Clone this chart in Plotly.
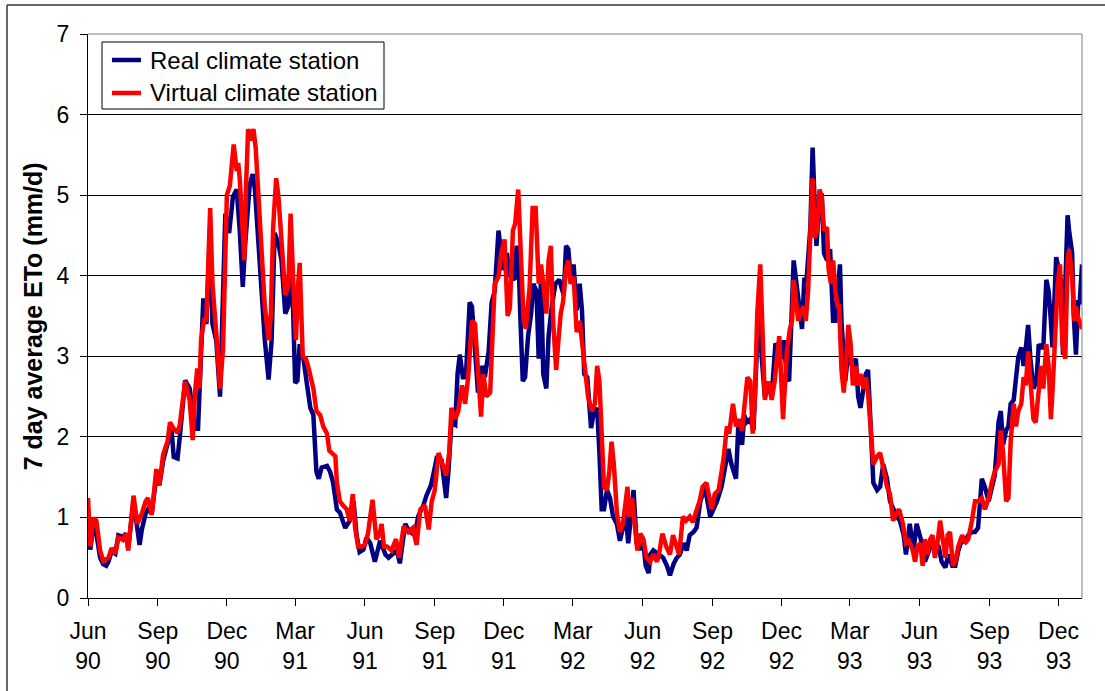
import pandas as pd
import plotly.graph_objects as go

# Series start date; the x values below are day offsets from it
START = pd.Timestamp("1990-06-01")

# Real climate station: 7 day average ETo (mm/d)
real_day = [
    0, 3, 7, 11, 16, 20, 24, 27, 31, 36, 40, 46, 50, 53, 60, 65, 68, 71, 76, 79,
    84, 90, 94, 99, 105, 110, 113, 118, 121, 128, 134, 138, 141, 145, 149, 152, 156, 161, 164, 169,
    174, 178, 181, 186, 191, 196, 200, 204, 207, 213, 217, 220, 224, 229, 233, 238, 242, 246, 251, 255,
    260, 264, 268, 273, 276, 279, 284, 288, 293, 297, 301, 304, 308, 315, 319, 323, 328, 332, 339, 345,
    350, 354, 358, 363, 367, 372, 378, 385, 392, 396, 407, 411, 418, 424, 431, 435, 442, 446, 452, 456,
    460, 466, 472, 475, 479, 484, 487, 490, 494, 498, 503, 506, 510, 514, 519, 523, 528, 532, 536, 541,
    547, 552, 556, 562, 565, 567, 570, 573, 576, 580, 584, 587, 591, 594, 597, 600, 604, 607, 611, 616,
    621, 627, 630, 633, 636, 640, 644, 648, 651, 654, 658, 663, 666, 671, 674, 677, 680, 684, 688, 692,
    697, 701, 705, 708, 712, 717, 719, 723, 727, 732, 735, 739, 741, 745, 752, 758, 763, 767, 772, 776,
    780, 785, 789, 793, 798, 802, 807, 813, 820, 825, 829, 835, 840, 844, 848, 854, 857, 862, 865, 868,
    873, 877, 880, 884, 888, 892, 897, 901, 906, 910, 914, 917, 921, 924, 930, 934, 938, 941, 944, 947,
    952, 955, 957, 960, 964, 967, 970, 974, 978, 982, 985, 988, 991, 993, 998, 1002, 1007, 1012, 1015, 1018,
    1022, 1025, 1028, 1032, 1035, 1040, 1044, 1048, 1053, 1057, 1061, 1066, 1070, 1075, 1078, 1083, 1088, 1092, 1097, 1100,
    1103, 1108, 1112, 1116, 1121, 1125, 1130, 1134, 1139, 1143, 1147, 1152, 1156, 1160, 1165, 1169, 1173, 1178, 1182, 1187,
    1191, 1195, 1200, 1203, 1206, 1210, 1213, 1216, 1220, 1223, 1226, 1230, 1233, 1236, 1239, 1242, 1246, 1250, 1253, 1256,
    1259, 1263, 1266, 1269, 1271, 1276, 1278, 1282, 1285, 1288, 1291, 1293, 1297, 1299, 1302, 1305, 1307, 1310,
]
real_eto = [
    1.1, 0.6, 0.9, 0.8, 0.5, 0.42, 0.4, 0.45, 0.58, 0.55, 0.78, 0.76, 0.8, 0.62, 1.2, 0.87, 0.66, 0.85, 1.05, 1.1,
    1.05, 1.5, 1.4, 1.7, 1.95, 2.1, 1.75, 1.73, 2.0, 2.7, 2.6, 2.3, 2.1, 2.1, 3.1, 3.72, 3.4, 4.6, 3.4, 3.2,
    2.5, 3.9, 4.77, 4.53, 4.98, 5.07, 4.56, 3.86, 4.37, 5.12, 5.26, 5.07, 4.47, 3.81, 3.2, 2.71, 3.2, 4.53, 4.4, 4.19,
    3.53, 3.62, 4.37, 2.67, 2.7, 3.15, 2.97, 2.69, 2.36, 2.27, 1.57, 1.48, 1.62, 1.64, 1.57, 1.43, 1.1, 1.06, 0.87, 0.96,
    1.2, 0.78, 0.57, 0.6, 0.75, 0.68, 0.45, 0.71, 0.54, 0.5, 0.59, 0.43, 0.92, 0.82, 0.78, 1.01, 1.15, 1.27, 1.4, 1.57,
    1.76, 1.71, 1.24, 1.57, 2.18, 2.15, 2.78, 3.02, 2.74, 2.74, 3.67, 3.62, 3.06, 2.55, 2.88, 2.74, 3.06, 3.67, 3.81, 4.56,
    4.07, 4.28, 4.0, 3.95, 4.37, 4.3, 3.44, 2.69, 2.74, 3.25, 3.53, 3.9, 3.81, 2.97, 3.99, 2.78, 2.6, 3.25, 3.6, 3.9,
    3.95, 3.76, 4.37, 4.33, 3.99, 4.14, 3.57, 3.9, 3.57, 2.78, 2.74, 2.11, 2.27, 2.36, 1.8, 1.1, 1.1, 1.34, 1.24, 1.01,
    0.92, 0.71, 0.87, 1.1, 0.68, 1.15, 1.34, 0.68, 0.6, 0.68, 0.4, 0.31, 0.54, 0.59, 0.54, 0.5, 0.4, 0.28, 0.43, 0.5,
    0.54, 0.68, 0.59, 0.78, 0.82, 0.87, 1.2, 1.38, 1.01, 1.1, 1.2, 1.38, 1.62, 1.85, 1.66, 1.48, 2.13, 1.9, 2.27, 2.18,
    2.22, 2.08, 2.74, 3.65, 2.97, 2.5, 2.65, 2.5, 3.16, 3.1, 2.97, 3.2, 2.74, 2.69, 4.19, 3.9, 3.62, 3.34, 3.95, 3.95,
    4.6, 5.59, 5.07, 4.37, 4.93, 5.02, 4.28, 4.19, 4.33, 3.44, 3.44, 3.81, 4.14, 3.44, 2.69, 3.06, 2.88, 2.97, 2.5, 2.36,
    2.6, 2.78, 2.83, 2.04, 1.43, 1.34, 1.38, 1.66, 1.48, 1.2, 1.1, 1.01, 0.96, 0.78, 0.54, 0.92, 0.59, 0.92, 0.75, 0.64,
    0.45, 0.59, 0.68, 0.68, 0.64, 0.45, 0.38, 0.54, 0.4, 0.4, 0.59, 0.73, 0.7, 0.78, 0.82, 0.82, 0.87, 1.48, 1.38, 1.2,
    1.34, 1.52, 2.18, 2.32, 1.9, 2.08, 2.13, 2.41, 2.46, 2.69, 2.99, 3.11, 2.88, 3.11, 3.39, 2.97, 2.6, 2.69, 3.15, 3.11,
    3.11, 3.95, 3.81, 3.44, 3.11, 4.23, 4.14, 3.95, 3.02, 3.9, 4.75, 4.56, 4.28, 3.53, 3.02, 3.67, 3.67, 4.14,
]

# Virtual climate station: 7 day average ETo (mm/d)
virtual_day = [
    0, 3, 7, 11, 16, 20, 27, 31, 36, 40, 46, 50, 53, 60, 65, 71, 76, 79, 84, 90,
    94, 99, 105, 108, 113, 118, 121, 128, 134, 138, 141, 144, 147, 149, 153, 156, 161, 164, 169, 174,
    178, 180, 183, 187, 190, 192, 196, 198, 200, 203, 206, 208, 211, 214, 218, 221, 224, 229, 233, 238,
    241, 244, 248, 251, 255, 260, 264, 267, 271, 274, 277, 279, 283, 287, 290, 294, 297, 301, 306, 310,
    315, 318, 321, 326, 328, 332, 336, 341, 345, 349, 352, 356, 361, 365, 369, 375, 380, 384, 387, 390,
    394, 400, 406, 410, 416, 422, 428, 433, 438, 444, 449, 453, 457, 462, 466, 472, 476, 479, 484, 488,
    493, 497, 501, 506, 510, 513, 518, 521, 525, 530, 533, 536, 541, 545, 549, 553, 556, 560, 563, 567,
    570, 574, 577, 582, 586, 590, 594, 597, 600, 604, 607, 610, 613, 617, 620, 623, 626, 630, 633, 636,
    640, 644, 648, 651, 655, 659, 664, 668, 671, 674, 677, 680, 684, 687, 690, 693, 697, 701, 705, 708,
    711, 713, 717, 721, 724, 728, 732, 736, 741, 745, 750, 753, 757, 762, 767, 771, 775, 779, 784, 788,
    793, 797, 801, 806, 810, 815, 819, 822, 826, 831, 835, 838, 842, 845, 850, 854, 858, 862, 866, 869,
    873, 876, 879, 882, 886, 889, 892, 897, 901, 905, 911, 916, 921, 925, 928, 930, 933, 936, 939, 943,
    946, 949, 953, 955, 958, 961, 964, 967, 970, 974, 976, 979, 982, 985, 988, 990, 993, 996, 999, 1002,
    1005, 1008, 1012, 1015, 1018, 1022, 1025, 1028, 1032, 1035, 1040, 1044, 1048, 1053, 1057, 1061, 1066, 1069, 1074, 1078,
    1082, 1087, 1090, 1093, 1097, 1100, 1103, 1106, 1110, 1113, 1116, 1119, 1123, 1126, 1130, 1133, 1136, 1140, 1143, 1147,
    1152, 1156, 1160, 1165, 1169, 1173, 1178, 1182, 1187, 1191, 1195, 1200, 1203, 1206, 1210, 1213, 1216, 1220, 1223, 1226,
    1230, 1233, 1236, 1239, 1242, 1246, 1249, 1253, 1256, 1259, 1263, 1266, 1269, 1271, 1275, 1278, 1281, 1284, 1288, 1291,
    1293, 1297, 1300, 1302, 1305, 1310,
]
virtual_eto = [
    1.24, 0.64, 0.99, 0.96, 0.59, 0.46, 0.5, 0.62, 0.55, 0.75, 0.72, 0.8, 0.59, 1.27, 0.92, 1.05, 1.2, 1.24, 1.03, 1.6,
    1.4, 1.78, 1.95, 2.18, 2.1, 2.05, 2.15, 2.69, 2.45, 1.96, 2.55, 2.85, 2.6, 3.2, 3.45, 3.45, 4.84, 3.9, 3.3, 2.6,
    3.1, 3.75, 5.0, 5.12, 5.4, 5.63, 5.3, 5.4, 5.2, 4.56, 4.19, 5.03, 5.82, 5.68, 5.82, 5.59, 5.07, 4.19, 3.62, 3.2,
    3.53, 4.6, 5.21, 4.98, 4.37, 3.76, 3.86, 4.77, 3.81, 3.2, 3.9, 4.16, 3.0, 2.97, 2.88, 2.69, 2.6, 2.32, 2.27, 2.13,
    2.04, 1.83, 1.8, 1.76, 1.43, 1.2, 1.15, 1.1, 0.96, 1.29, 0.87, 0.64, 0.64, 0.66, 0.8, 1.22, 0.73, 0.78, 0.92, 0.64,
    0.64, 0.59, 0.73, 0.5, 0.89, 0.82, 0.87, 0.66, 1.1, 1.15, 0.85, 1.2, 1.34, 1.8, 1.69, 1.52, 1.8, 2.36, 2.22, 2.32,
    2.64, 2.41, 2.74, 3.44, 3.4, 2.97, 2.25, 2.78, 2.5, 2.55, 3.15, 3.9, 3.99, 4.3, 4.45, 3.5, 3.6, 4.56, 4.65, 5.07,
    4.37, 3.48, 3.34, 3.86, 4.84, 4.84, 3.9, 4.14, 3.9, 3.53, 4.19, 4.37, 3.44, 2.83, 3.2, 3.53, 3.67, 4.09, 4.19, 3.9,
    3.99, 3.3, 3.44, 3.16, 2.78, 2.5, 2.32, 2.41, 2.88, 2.69, 2.04, 1.38, 1.34, 1.57, 1.94, 1.66, 1.06, 0.82, 0.92, 1.2,
    1.38, 1.01, 1.24, 0.87, 0.59, 0.8, 0.73, 0.5, 0.45, 0.54, 0.45, 0.57, 0.8, 0.64, 0.54, 0.78, 0.68, 0.54, 1.01, 0.96,
    1.01, 0.94, 1.06, 1.2, 1.38, 1.43, 1.24, 1.1, 1.29, 1.34, 1.57, 1.76, 2.13, 2.04, 2.41, 2.13, 2.22, 2.08, 2.46, 2.74,
    2.69, 2.04, 2.5, 3.53, 4.14, 3.34, 2.46, 2.69, 2.46, 2.69, 3.25, 2.22, 3.06, 3.34, 3.44, 3.95, 3.72, 3.44, 3.53, 3.62,
    3.44, 3.81, 4.75, 5.21, 4.47, 4.56, 5.07, 4.98, 4.56, 4.6, 4.09, 3.9, 4.19, 3.81, 3.62, 3.62, 2.83, 2.55, 2.88, 3.39,
    3.16, 2.64, 2.88, 2.64, 2.78, 2.6, 2.74, 2.55, 2.04, 1.66, 1.76, 1.8, 1.62, 1.38, 1.29, 0.96, 1.06, 1.1, 0.92, 0.68,
    0.71, 0.59, 0.45, 0.64, 0.68, 0.4, 0.73, 0.54, 0.73, 0.78, 0.5, 0.64, 0.96, 0.73, 0.5, 0.78, 0.82, 0.4, 0.45, 0.64,
    0.78, 0.68, 0.73, 0.96, 1.2, 1.2, 1.24, 1.1, 1.24, 1.43, 1.57, 1.66, 2.08, 1.8, 1.2, 1.24, 1.94, 2.41, 2.13, 2.32,
    2.41, 2.74, 2.64, 3.06, 2.69, 2.22, 2.18, 2.64, 2.88, 2.6, 3.15, 2.88, 2.22, 2.55, 3.48, 3.9, 4.14, 3.16, 2.97, 4.19,
    4.33, 3.99, 3.44, 3.62, 3.48, 3.34,
]

# Quarterly date ticks, Jun 1990 to Dec 1993
tick_dates = pd.date_range("1990-06-01", "1993-12-01", freq="3MS")
tick_text = [d.strftime("%b<br>%y") for d in tick_dates]

series_names = ["Real climate station", "Virtual climate station"]
series_colors = ["#000080", "#FF0000"]

FONT = "Liberation Sans, Arial, sans-serif"
LINE_W = 4.5

real_x = [START + pd.Timedelta(days=d) for d in real_day]
virtual_x = [START + pd.Timedelta(days=d) for d in virtual_day]

fig = go.Figure()
fig.add_trace(go.Scatter(
    x=real_x, y=real_eto, mode="lines", name=series_names[0],
    line=dict(color=series_colors[0], width=LINE_W),
))
fig.add_trace(go.Scatter(
    x=virtual_x, y=virtual_eto, mode="lines", name=series_names[1],
    line=dict(color=series_colors[1], width=LINE_W),
))

# Boxed key in the top-left corner of the plot area (paper coordinates)
key_box = dict(x0=0.0141, x1=0.2978, y0=0.8670, y1=0.9858)
key_rows_y = [0.9539, 0.8954]
key_line_x = (0.0241, 0.0533)
key_text_x = 0.0604

shapes = [
    # plot area frame on the top and right
    dict(type="line", xref="paper", yref="paper", x0=0, x1=1, y0=1, y1=1,
         line=dict(color="#808080", width=1)),
    dict(type="line", xref="paper", yref="paper", x0=1, x1=1, y0=0, y1=1,
         line=dict(color="#808080", width=1)),
    # chart area border
    dict(type="line", xref="paper", yref="paper", x0=-0.0815, x1=1.1, y0=1.0514, y1=1.0514,
         line=dict(color="#333333", width=1.5)),
    dict(type="line", xref="paper", yref="paper", x0=-0.0815, x1=-0.0815, y0=1.0514, y1=-0.2,
         line=dict(color="#333333", width=1.5)),
    # key box
    dict(type="rect", xref="paper", yref="paper", fillcolor="white",
         line=dict(color="black", width=1), layer="above", **key_box),
]
annotations = [dict(
    text="<b>7 day average ETo (mm/d)</b>",
    xref="paper", yref="paper", x=-0.055, y=0.5,
    xanchor="center", yanchor="middle", textangle=-90, showarrow=False,
    font=dict(family=FONT, size=25, color="black"),
)]
for name, color, ry in zip(series_names, series_colors, key_rows_y):
    shapes.append(dict(type="line", xref="paper", yref="paper", layer="above",
                       x0=key_line_x[0], x1=key_line_x[1], y0=ry, y1=ry,
                       line=dict(color=color, width=LINE_W)))
    annotations.append(dict(text=name, xref="paper", yref="paper", x=key_text_x, y=ry,
                            xanchor="left", yanchor="middle", showarrow=False,
                            font=dict(family=FONT, size=24, color="black")))

fig.update_layout(
    width=1105, height=691,
    margin=dict(l=88, r=23, t=34, b=93),
    paper_bgcolor="white", plot_bgcolor="white",
    font=dict(family=FONT, size=23, color="black"),
    showlegend=False,
    xaxis=dict(
        type="date",
        range=["1990-06-01", "1994-01-01"],
        tickmode="array", tickvals=tick_dates, ticktext=tick_text,
        ticks="outside", ticklen=7, tickcolor="black",
        showline=True, linecolor="black", linewidth=1,
        showgrid=False, zeroline=False, ticklabelstandoff=5,
        tickfont=dict(family=FONT, size=23, color="black"),
    ),
    yaxis=dict(
        range=[0, 7], dtick=1,
        ticks="outside", ticklen=7, tickcolor="black",
        showline=True, linecolor="black", linewidth=1,
        showgrid=True, gridcolor="black", gridwidth=1,
        zeroline=False, ticklabelstandoff=6,
        tickfont=dict(family=FONT, size=23, color="black"),
    ),
    annotations=annotations,
    shapes=shapes,
)

fig.write_html("out.html")
